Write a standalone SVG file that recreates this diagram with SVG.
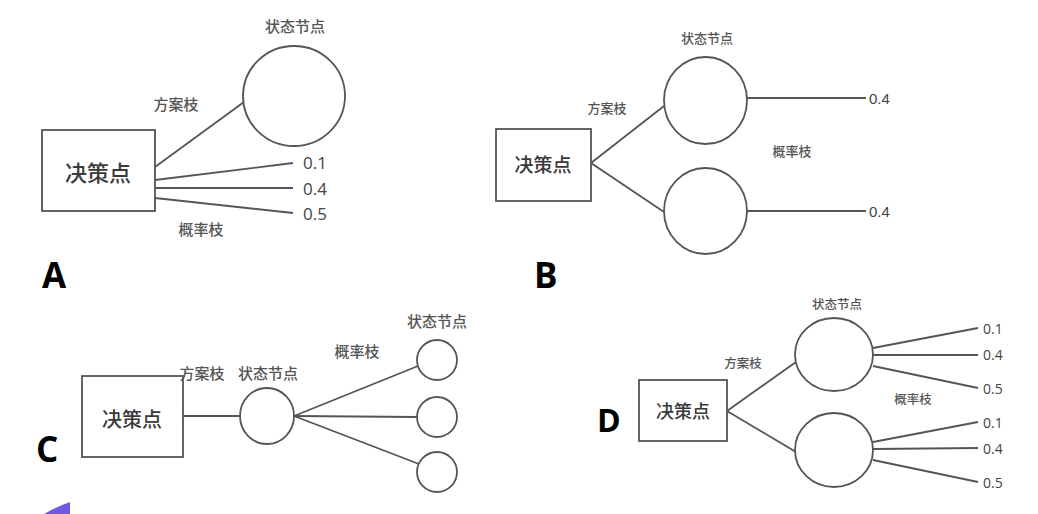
<svg xmlns="http://www.w3.org/2000/svg" width="1038" height="514" viewBox="0 0 1038 514">
<style>
.box{fill:#fff;stroke:#555;stroke-width:1.8}
.nd{fill:#fff;stroke:#555;stroke-width:1.8}
.ln{stroke:#555;stroke-width:1.8;fill:none}
.cjk{font-family:"Noto Sans CJK SC","Noto Sans",sans-serif;fill:#555;text-anchor:middle;dominant-baseline:central;font-weight:500}
.main{font-family:"Noto Sans CJK SC","Noto Sans",sans-serif;fill:#3a3a3a;text-anchor:middle;dominant-baseline:central;font-weight:500}
.num{font-family:"Open Sans","Liberation Sans",sans-serif;fill:#444;dominant-baseline:central}
.big{font-family:"Open Sans","Liberation Sans",sans-serif;font-weight:700;fill:#000}
</style>
<rect width="1038" height="514" fill="#fff"/>

<g id="connectors">
  <!-- A -->
  <line class="ln" x1="155" y1="167" x2="244" y2="102"/>
  <line class="ln" x1="155" y1="180" x2="293" y2="163"/>
  <line class="ln" x1="155" y1="188" x2="293" y2="188"/>
  <line class="ln" x1="155" y1="198" x2="293" y2="213"/>
  <!-- B -->
  <line class="ln" x1="591" y1="163" x2="664" y2="106"/>
  <line class="ln" x1="591" y1="163" x2="664" y2="212"/>
  <line class="ln" x1="747" y1="98" x2="866" y2="98"/>
  <line class="ln" x1="747" y1="211" x2="866" y2="211"/>
  <!-- C -->
  <line class="ln" x1="183" y1="416" x2="240" y2="416"/>
  <line class="ln" x1="294" y1="416" x2="418" y2="366"/>
  <line class="ln" x1="294" y1="416" x2="417" y2="417"/>
  <line class="ln" x1="294" y1="416" x2="419" y2="464"/>
  <!-- D -->
  <line class="ln" x1="727" y1="411" x2="796" y2="362"/>
  <line class="ln" x1="727" y1="411" x2="796" y2="452"/>
  <line class="ln" x1="873" y1="348" x2="978" y2="328"/>
  <line class="ln" x1="873" y1="355" x2="978" y2="355"/>
  <line class="ln" x1="873" y1="366" x2="978" y2="388"/>
  <line class="ln" x1="873" y1="442" x2="978" y2="422"/>
  <line class="ln" x1="873" y1="449" x2="978" y2="448"/>
  <line class="ln" x1="873" y1="460" x2="978" y2="482"/>
</g>

<!-- Panel A -->
<g id="A-decision">
  <rect class="box" x="42" y="130" width="113" height="81"/>
  <text class="main" x="98" y="171" font-size="22">决策点</text>
</g>
<g id="A-state">
  <ellipse class="nd" cx="294" cy="96" rx="51" ry="50"/>
</g>
<g id="A-labels">
  <text class="cjk" x="295" y="25" font-size="15">状态节点</text>
  <text class="cjk" x="176" y="103" font-size="15">方案枝</text>
  <text class="cjk" x="201" y="228" font-size="15">概率枝</text>
  <text class="num" x="303" y="162" font-size="17">0.1</text>
  <text class="num" x="303" y="188" font-size="17">0.4</text>
  <text class="num" x="303" y="213" font-size="17">0.5</text>
  <text class="big" x="42" y="288" font-size="35">A</text>
</g>

<!-- Panel B -->
<g id="B-decision">
  <rect class="box" x="496" y="129" width="95" height="72"/>
  <text class="main" x="543" y="163" font-size="19">决策点</text>
</g>
<g id="B-state1">
  <ellipse class="nd" cx="705.5" cy="100.5" rx="41.5" ry="43.5"/>
</g>
<g id="B-state2">
  <ellipse class="nd" cx="705.5" cy="211" rx="41.5" ry="43"/>
</g>
<g id="B-labels">
  <text class="cjk" x="707" y="37" font-size="13">状态节点</text>
  <text class="cjk" x="607" y="107" font-size="13">方案枝</text>
  <text class="cjk" x="792" y="150" font-size="13">概率枝</text>
  <text class="num" x="869" y="98" font-size="15" style="font-family:'Liberation Sans',sans-serif">0.4</text>
  <text class="num" x="869" y="211" font-size="15" style="font-family:'Liberation Sans',sans-serif">0.4</text>
  <text class="big" x="534" y="288" font-size="35">B</text>
</g>

<!-- Panel C -->
<g id="C-decision">
  <rect class="box" x="82" y="376" width="101" height="81"/>
  <text class="main" x="132" y="418" font-size="20">决策点</text>
</g>
<g id="C-state">
  <ellipse class="nd" cx="267" cy="416" rx="27" ry="28"/>
</g>
<g id="C-state-top">
  <circle class="nd" cx="437" cy="360" r="20"/>
</g>
<g id="C-state-mid">
  <circle class="nd" cx="437" cy="417" r="20"/>
</g>
<g id="C-state-bot">
  <circle class="nd" cx="437" cy="472" r="20"/>
</g>
<g id="C-labels">
  <text class="cjk" x="202" y="372" font-size="15">方案枝</text>
  <text class="cjk" x="268" y="372" font-size="15">状态节点</text>
  <text class="cjk" x="357" y="350" font-size="15">概率枝</text>
  <text class="cjk" x="437" y="320" font-size="15">状态节点</text>
  <text class="big" x="36" y="462" font-size="35">C</text>
</g>

<!-- Panel D -->
<g id="D-decision">
  <rect class="box" x="639" y="380" width="88" height="61"/>
  <text class="main" x="683" y="410" font-size="18">决策点</text>
</g>
<g id="D-state1">
  <ellipse class="nd" cx="834" cy="354.5" rx="39" ry="36.5"/>
</g>
<g id="D-state2">
  <ellipse class="nd" cx="834" cy="450" rx="39" ry="37"/>
</g>
<g id="D-labels">
  <text class="cjk" x="837" y="303" font-size="12.5">状态节点</text>
  <text class="cjk" x="743" y="362" font-size="12.5">方案枝</text>
  <text class="cjk" x="913" y="398" font-size="12.5">概率枝</text>
  <text class="num" x="983" y="328" font-size="14">0.1</text>
  <text class="num" x="983" y="354" font-size="14">0.4</text>
  <text class="num" x="983" y="388" font-size="14">0.5</text>
  <text class="num" x="983" y="422" font-size="14">0.1</text>
  <text class="num" x="983" y="448" font-size="14">0.4</text>
  <text class="num" x="983" y="482" font-size="14">0.5</text>
  <text class="big" x="597" y="432" font-size="32">D</text>
</g>

<path d="M70,502 L70,514 L44,514 Q58,506 70,502 Z" fill="#7257e0"/>
</svg>
